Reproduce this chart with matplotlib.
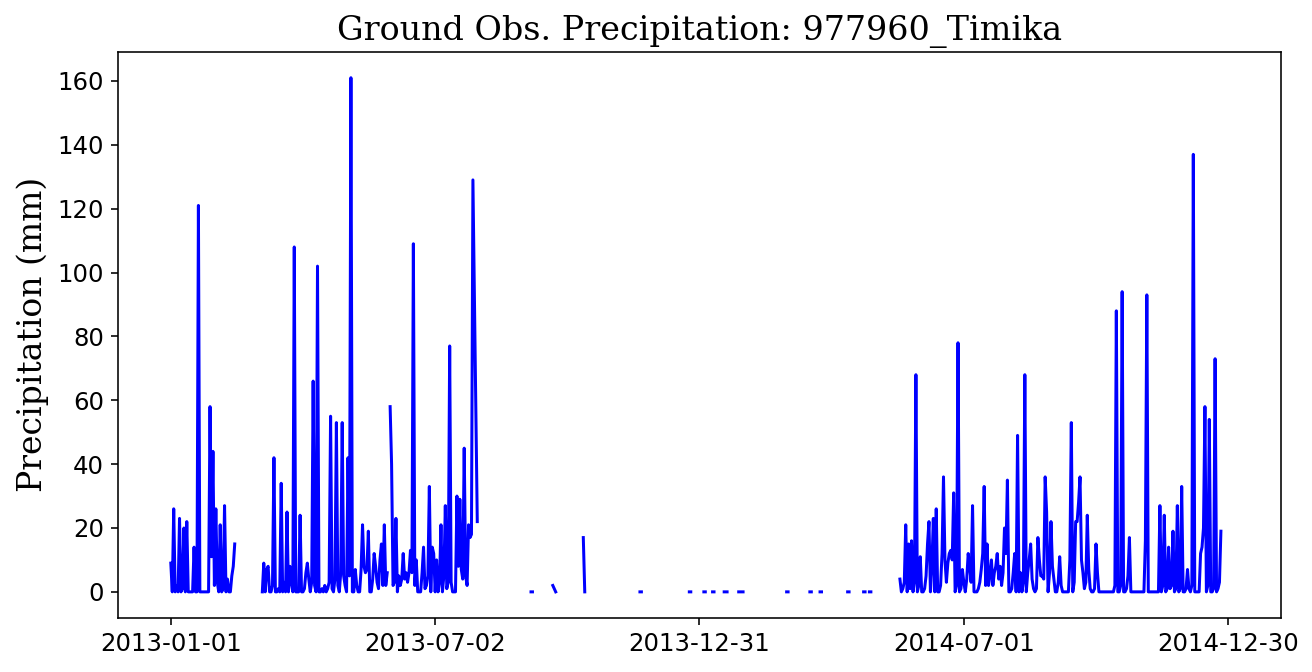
import matplotlib
matplotlib.use("Agg")
import matplotlib.pyplot as plt
import matplotlib.dates as mdates
import numpy as np
import pandas as pd

station = "977960_Timika"
date_first = "2013-01-01"
date_last = "2014-12-30"

# daily rainfall runs (mm); days not listed are missing
seg1_start = "2013-01-01"
seg1 = [9, 0, 26, 0, 2, 0, 23, 0, 1, 20, 0, 22, 0, 0, 0, 0, 14, 0, 0, 121,
        0, 0, 0, 0, 0, 0, 0, 58, 11, 44, 2, 26, 3, 0, 21, 0, 1, 27, 0, 4,
        0, 0, 5, 8, 15]

seg2_start = "2013-03-05"
seg2 = [0, 9, 0, 7, 8, 0, 0, 2, 42, 0, 0, 1, 0, 34, 0, 3, 0, 25, 0, 8,
        3, 0, 108, 0, 0, 0, 24, 0, 0, 1, 6, 9, 4, 0, 3, 66, 2, 0, 102, 0,
        0, 1, 0, 2, 0, 1, 3, 55, 1, 0, 4, 53, 2, 0, 6, 53, 5, 2, 0, 42,
        5, 161, 0, 0, 7, 2, 0, 0, 7, 21, 8, 6, 7, 19, 0, 0, 4, 12, 8, 3,
        1, 10, 15, 2, 21, 2, 6]

seg3_start = "2013-06-01"
seg3 = [58, 40, 2, 3, 23, 0, 5, 2, 4, 12, 4, 6, 3, 6, 13, 6, 109, 2, 10, 0,
        0, 0, 6, 14, 1, 2, 5, 33, 0, 14, 12, 0, 10, 0, 3, 21, 0, 5, 27, 1,
        3, 77, 3, 0, 0, 0, 30, 8, 29, 7, 4, 45, 5, 2, 21, 17, 18, 129, 93, 57,
        22]

# scattered short records, Sep 2013 - Apr 2014
mid_starts = ["2013-09-06", "2013-09-21", "2013-10-12", "2013-11-20", "2013-12-24",
              "2014-01-03", "2014-01-09", "2014-01-17", "2014-01-27", "2014-03-01",
              "2014-03-17", "2014-03-24", "2014-04-12", "2014-04-23", "2014-04-27"]
mid_vals = [[0, 0], [2, 1, 0], [17, 0], [0, 0], [0, 0],
            [0, 0], [0, 0], [0, 0, 0], [0, 0, 0, 0], [0, 0],
            [0, 0], [0, 0], [0, 0], [0, 0], [0, 0]]

seg4_start = "2014-05-18"
seg4 = [4, 0, 1, 3, 21, 0, 15, 1, 16, 0,
        3, 68, 0, 2, 11, 0, 0, 1, 5, 15,
        22, 0, 8, 23, 0, 26, 0, 0, 2, 12,
        36, 10, 3, 9, 12, 13, 10, 31, 0, 2,
        78, 0, 1, 7, 3, 0, 4, 12, 8, 3,
        27, 0, 0, 0, 1, 3, 7, 12, 33, 2,
        15, 2, 5, 10, 2, 6, 8, 12, 4, 8,
        2, 6, 20, 12, 35, 0, 0, 1, 6, 12,
        0, 49, 0, 6, 0, 3, 68, 0, 6, 10,
        15, 4, 1, 0, 1, 17, 10, 5, 5, 4,
        36, 25, 0, 6, 22, 8, 4, 0, 0, 3,
        11, 2, 0, 0, 0, 0, 0, 10, 53, 0,
        3, 22, 22, 28, 36, 10, 6, 1, 3, 24,
        7, 1, 0, 0, 1, 15, 6, 0, 0, 0,
        0, 0, 0, 0, 0, 0, 0, 0, 2, 88,
        0, 0, 2, 94, 0, 0, 1, 5, 17, 0,
        0, 0, 0, 0, 0, 0, 0, 0, 0, 16,
        93, 0, 0, 0, 0, 0, 0, 0, 0, 27,
        0, 2, 24, 0, 1, 14, 1, 2, 19, 0,
        1, 27, 0, 1, 33, 0, 0, 1, 7, 1,
        0, 2, 137, 0, 0, 0, 0, 12, 14, 20,
        58, 0, 2, 54, 0, 0, 1, 73, 0, 1,
        3, 19]


def run(start, vals):
    idx = pd.date_range(start, periods=len(vals), freq="D")
    return pd.Series(vals, index=idx, dtype=float)


parts = [run(seg1_start, seg1), run(seg2_start, seg2), run(seg3_start, seg3)]
for s, v in zip(mid_starts, mid_vals):
    parts.append(run(s, v))
parts.append(run(seg4_start, seg4))

days = pd.date_range(date_first, date_last, freq="D")
precip = pd.concat(parts).reindex(days)  # gaps -> NaN, line breaks there

fig = plt.figure(figsize=(1312 / 144, 672 / 144), dpi=144)
ax = fig.add_axes([0.0899, 0.0810, 0.8865, 0.8416])
ax.plot(precip.index, precip.values, color="blue", linewidth=1.5)

t0, t1 = days[0], days[-1]
span = t1 - t0
ax.set_xlim(t0 - span * 0.05, t1 + span * 0.05)
ticks = pd.to_datetime(np.linspace(t0.value, t1.value, 5))
ax.set_xticks(ticks)
ax.xaxis.set_major_formatter(mdates.DateFormatter("%Y-%m-%d"))
ax.tick_params(labelsize=12.2)

ax.set_title("Ground Obs. Precipitation: " + station, family="DejaVu Serif", fontsize=16.7)
ax.set_ylabel("Precipitation (mm)", family="DejaVu Serif", fontsize=16.5)

fig.savefig("out.png", dpi=144)
